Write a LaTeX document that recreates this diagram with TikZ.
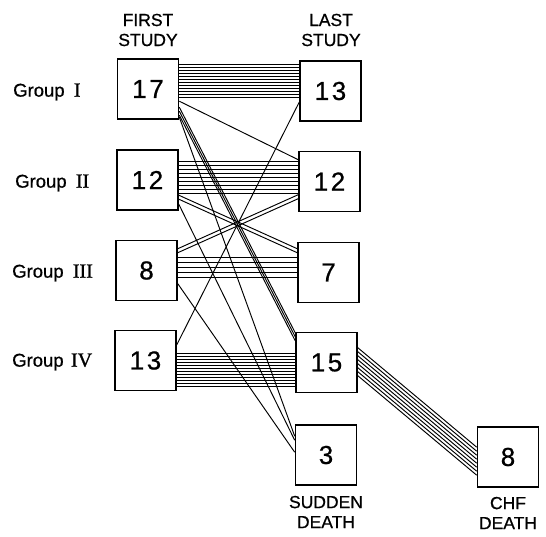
\documentclass[tikz,border=0pt]{standalone}
\usepackage{fontspec}
\setmainfont[FakeBold=0.7]{Liberation Sans}
\newfontfamily\romanfont[FakeBold=1.2]{Liberation Serif}
\newfontfamily\countfont[LetterSpace=10,FakeBold=0.7]{Liberation Sans}
\usetikzlibrary{calc}

\begin{document}
\begin{tikzpicture}[x=1pt,y=-1pt,
  stagebox/.style={draw, line width=1.6pt, minimum width=61pt, minimum height=60pt,
    inner sep=0pt, font=\countfont\fontsize{26}{30}\selectfont},
  caption/.style={align=center, inner sep=0pt, font=\fontsize{17.5}{20}\selectfont},
  grouplabel/.style={anchor=west, inner sep=0pt, font=\fontsize{18.5}{20}\selectfont},
  track/.style={line width=0.95pt}
]
\useasboundingbox (0,0) rectangle (546,536);

% first study column
\node[stagebox] (f1) at (148,89)    {17};
\node[stagebox] (f2) at (147.5,180) {12};
\node[stagebox] (f3) at (146.5,270.5) {8};
\node[stagebox] (f4) at (145.5,360.5) {13};

% last study column and outcomes
\node[stagebox] (l1) at (330.5,91)    {13};
\node[stagebox] (l2) at (329.5,181.5) {12};
\node[stagebox] (l3) at (328.5,272.5) {7};
\node[stagebox] (l4) at (326.5,362.5) {15};
\node[stagebox] (sd) at (326,455)     {3};
\node[stagebox] (chf) at (508,457)    {8};

% captions
\node[caption] (capfirst) at (148,30) {FIRST\\STUDY};
\node[caption] (caplast)  at (331,30) {LAST\\STUDY};
\node[caption] (capsd)    at (326,512) {SUDDEN\\DEATH};
\node[caption] (capchf)   at (508,513) {CHF\\DEATH};

\node[grouplabel] (g1) at (13,92)  {Group\hspace{0.5em}{\romanfont\fontsize{20}{20}\selectfont I}};
\node[grouplabel] (g2) at (15,183) {Group\hspace{0.5em}{\romanfont\fontsize{20}{20}\selectfont II}};
\node[grouplabel] (g3) at (12,273) {Group\hspace{0.5em}{\romanfont\fontsize{20}{20}\selectfont III}};
\node[grouplabel] (g4) at (12,362) {Group\hspace{0.4em}{\romanfont\fontsize{20}{20}\selectfont IV}};

% patients staying in the same group
\foreach \i in {0,...,11}
  \draw[track] ($(f1.north east)+(0,6.5+3*\i)$) -- ($(l1.north west)+(0,4.5+3*\i)$);
\foreach \i in {0,...,8}
  \draw[track] ($(f2.north east)+(0,12.5+4*\i)$) -- ($(l2.north west)+(0,11+4*\i)$);
\foreach \i in {0,...,4}
  \draw[track] ($(f3.north east)+(0,17.5+5*\i)$) -- ($(l3.north west)+(0,15.5+5*\i)$);
\foreach \i in {0,...,11}
  \draw[track] ($(f4.north east)+(0,23.5+3*\i)$) -- ($(l4.north west)+(0,21.5+3*\i)$);

% changes of group
\draw[track] ($(f1.north east)+(0,43)$) -- ($(l2.north west)+(0,9)$);
\draw[track] ($(f4.north east)+(0,15)$) -- ($(l1.north west)+(0,42)$);
\foreach \i in {0,1}
  \draw[track] ($(f2.north east)+(0,46+4*\i)$) -- ($(l3.north west)+(0,7+4*\i)$);
\foreach \i in {0,1}
  \draw[track] ($(f3.north east)+(0,9+4*\i)$) -- ($(l2.north west)+(0,44+4*\i)$);
\foreach \i in {0,1,2}
  \draw[track] ($(f1.north east)+(0,49+4*\i)$) -- ($(l4.north west)+(0,1+4*\i)$);

% sudden deaths
\draw[track] ($(f1.north east)+(0,59)$) -- ($(sd.north west)+(0,12)$);
\draw[track] ($(f2.north east)+(0,55)$) -- ($(sd.north west)+(0,16)$);
\draw[track] ($(f3.north east)+(0,44)$) -- ($(sd.north west)+(0,28)$);

% deaths from congestive heart failure
\foreach \i in {0,...,7}
  \draw[track] ($(l4.north east)+(0,16+4*\i)$) -- ($(chf.north west)+(0,21+4*\i)$);
\end{tikzpicture}
\end{document}
